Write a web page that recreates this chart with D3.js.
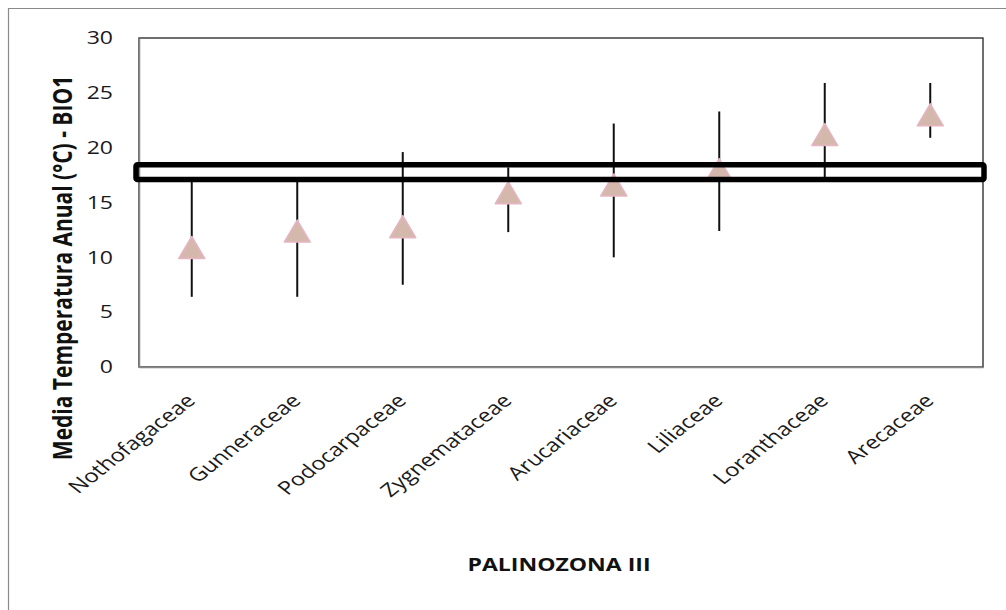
<!DOCTYPE html>
<html>
<head>
<meta charset="utf-8">
<script src="https://cdn.jsdelivr.net/npm/d3@7"></script>
<style>
  body { margin: 0; background: #fff; }
  svg { display: block; font-family: "Open Sans", sans-serif; }
</style>
</head>
<body>
<div id="viz"></div>
<script>
// families on the x axis
const families = ["Nothofagaceae", "Gunneraceae", "Podocarpaceae", "Zygnemataceae",
                  "Arucariaceae", "Liliaceae", "Loranthaceae", "Arecaceae"];
// mean annual temperature (triangle) and its range (error bar)
const meanTemp = [10.9, 12.4, 12.8, 15.9, 16.6, 18.0, 21.2, 23.0];
const minTemp  = [6.4, 6.4, 7.5, 12.3, 10.0, 12.4, 17.3, 20.9];
const maxTemp  = [17.0, 17.0, 19.6, 18.2, 22.2, 23.3, 25.9, 25.9];
// highlighted band
const bandLow = 17.1;
const bandHigh = 18.45;
const yTicks = [0, 5, 10, 15, 20, 25, 30];

const width = 1006;
const height = 610;
// the original picture is a little wider than tall, text gets the same stretch
const stretch = 1.28;

const svg = d3.select("#viz")
    .append("svg")
    .attr("width", width)
    .attr("height", height);

svg.append("rect").attr("width", width).attr("height", height).attr("fill", "#fff");

// outer chart frame: only its top and left edges are in the picture
svg.append("path")
    .attr("d", `M8.5,${height} V8.5 H${width}`)
    .attr("fill", "none")
    .attr("stroke", "#8a8a8a")
    .attr("stroke-width", 1.2);

const margin = {top: 38, right: 23, bottom: 243, left: 139};
const innerWidth = width - margin.left - margin.right;
const innerHeight = height - margin.top - margin.bottom;

const data = families.map((f, i) => ({
    name: f, mean: meanTemp[i], lo: minTemp[i], hi: maxTemp[i]
}));

const xScale = d3.scaleBand()
    .domain(families)
    .range([0, innerWidth]);

const yScale = d3.scaleLinear()
    .domain([0, 30])
    .range([innerHeight, 0]);

const g = svg.append("g")
    .attr("transform", `translate(${margin.left}, ${margin.top})`);

// plot area border
g.append("rect")
    .attr("width", innerWidth).attr("height", innerHeight)
    .attr("fill", "none")
    .attr("stroke", "#222")
    .attr("stroke-width", 1.3);

// y axis
const yAxis = g.append("g")
    .call(d3.axisLeft(yScale).tickValues(yTicks).tickSize(0).tickPadding(0));
yAxis.select(".domain").attr("stroke", "#888").attr("stroke-width", 1.5);
yAxis.selectAll("text")
    .attr("x", 0)
    .attr("transform", `translate(-26, 0) scale(${stretch}, 1)`)
    .attr("font-size", 18)
    .attr("fill", "#1a1a1a")
    .attr("font-family", "Open Sans");

// x axis
const xAxis = g.append("g")
    .attr("transform", `translate(0, ${innerHeight})`)
    .call(d3.axisBottom(xScale).tickSize(0).tickFormat(""));
xAxis.select(".domain").attr("stroke", "#888").attr("stroke-width", 1.5);

g.selectAll(".xlabel").data(families)
    .enter().append("text")
    .attr("class", "xlabel")
    .attr("transform", d => `translate(${xScale(d) + xScale.bandwidth() / 2 + 5}, ${innerHeight + 35}) scale(${stretch}, 1) rotate(-45)`)
    .attr("text-anchor", "end")
    .attr("font-size", 18.5)
    .attr("fill", "#1a1a1a")
    .text(d => d);

// error bars
g.selectAll(".err").data(data)
    .enter().append("line")
    .attr("class", "err")
    .attr("x1", d => xScale(d.name) + xScale.bandwidth() / 2)
    .attr("x2", d => xScale(d.name) + xScale.bandwidth() / 2)
    .attr("y1", d => yScale(d.lo))
    .attr("y2", d => yScale(d.hi))
    .attr("stroke", "#111")
    .attr("stroke-width", 2);

// triangle markers
const triW = 26, triH = 22;
const tri = d3.line()([[0, -triH / 2], [triW / 2, triH / 2], [-triW / 2, triH / 2]]) + "Z";
g.selectAll(".mark").data(data)
    .enter().append("path")
    .attr("class", "mark")
    .attr("d", tri)
    .attr("transform", d => `translate(${xScale(d.name) + xScale.bandwidth() / 2}, ${yScale(d.mean)})`)
    .attr("fill", "#d4b8ac")
    .attr("stroke", "#e6b4c2")
    .attr("stroke-width", 1.5)
    .attr("stroke-linejoin", "round");

// highlighted band rectangle
g.append("rect")
    .attr("x", -3)
    .attr("y", yScale(bandHigh))
    .attr("width", innerWidth + 4)
    .attr("height", yScale(bandLow) - yScale(bandHigh))
    .attr("fill", "none")
    .attr("stroke", "#000")
    .attr("stroke-width", 5.5)
    .attr("rx", 1.5);

// axis titles
svg.append("text")
    .attr("transform", `translate(72, 268) scale(${stretch}, 1) rotate(-90)`)
    .attr("text-anchor", "middle")
    .attr("font-size", 21)
    .attr("font-weight", "bold")
    .attr("fill", "#111")
    .text("Media Temperatura Anual (°C) - BIO1");

svg.append("text")
    .attr("transform", `translate(559, 571) scale(${stretch}, 1)`)
    .attr("text-anchor", "middle")
    .attr("font-size", 18)
    .attr("font-weight", "bold")
    .attr("fill", "#111")
    .text("PALINOZONA III");
</script>
</body>
</html>
